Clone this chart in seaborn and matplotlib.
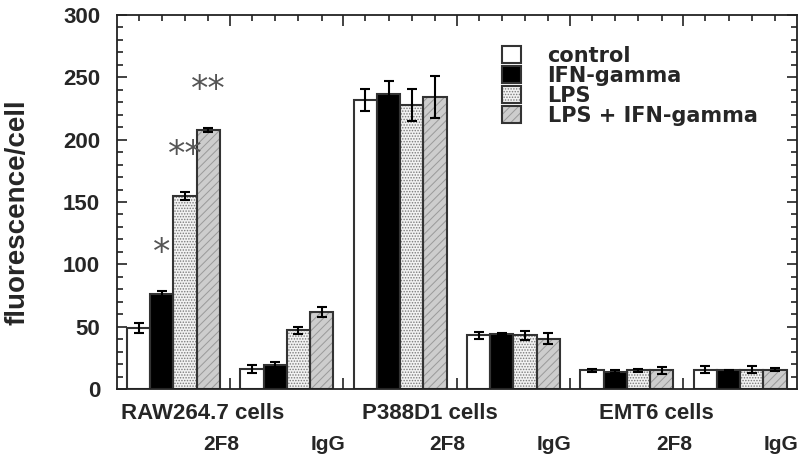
import matplotlib
matplotlib.use('Agg')
import matplotlib.pyplot as plt
import matplotlib.transforms as mtransforms
from matplotlib.patches import Patch, Rectangle
from matplotlib.legend_handler import HandlerTuple
from matplotlib.ticker import MultipleLocator
import numpy as np
import pandas as pd
import seaborn as sns

# values
groups = ['RAW264.7 2F8', 'RAW264.7 IgG', 'P388D1 2F8', 'P388D1 IgG', 'EMT6 2F8', 'EMT6 IgG']
cell_lines = ['RAW264.7 cells', 'P388D1 cells', 'EMT6 cells']
antibodies = ['2F8', 'IgG', '2F8', 'IgG', '2F8', 'IgG']
treatments = ['control', 'IFN-gamma', 'LPS', 'LPS + IFN-gamma']

control = [49, 16, 232, 43, 15, 15.5]
ifn = [76, 19, 237, 44, 14, 15]
lps = [155, 47, 228, 43, 15, 15.5]
lps_ifn = [208, 62, 234, 40.5, 15, 15.5]

control_err = [4, 3.5, 9, 3, 1, 3]
ifn_err = [3, 3, 10, 1, 1, 0.5]
lps_err = [3, 3, 13, 3.5, 1, 3]
lps_ifn_err = [1.5, 4, 17, 4.5, 3, 1]

# significance marks over the RAW264.7 / 2F8 bars
stars = ['', '*', '**', '**']

# long table for seaborn
values = [control, ifn, lps, lps_ifn]
errors = [control_err, ifn_err, lps_err, lps_ifn_err]
rows = []
for t, vals, errs in zip(treatments, values, errors):
    for g, v, e in zip(groups, vals, errs):
        rows.append({'group': g, 'treatment': t, 'value': v, 'err': e})
df = pd.DataFrame(rows)

sns.set_style('ticks')
plt.rcParams['font.family'] = ['Liberation Sans', 'DejaVu Sans']
plt.rcParams['font.weight'] = 'bold'
plt.rcParams['hatch.linewidth'] = 0.7

fills = {'control': 'white', 'IFN-gamma': 'black', 'LPS': '#f2f2f2', 'LPS + IFN-gamma': '#cdcdcd'}
hatches = {'control': '', 'IFN-gamma': '', 'LPS': '......', 'LPS + IFN-gamma': '////'}
hatch_cols = {'control': '#333333', 'IFN-gamma': 'black', 'LPS': '#7a7a7a', 'LPS + IFN-gamma': '#999999'}
edge = '#333333'

fig = plt.figure(figsize=(8, 4.62), dpi=100)
ax = fig.add_axes([0.146, 0.158, 0.85, 0.8095])

sns.barplot(data=df, x='group', y='value', hue='treatment', order=groups,
            hue_order=treatments, palette=fills, width=0.82, errorbar=None,
            saturation=1, linewidth=0, legend=False, ax=ax)

centers = []
for t, cont in zip(treatments, ax.containers):
    sub = df[df.treatment == t]
    xs, hs = [], []
    for bar in cont:
        bar.set_hatch(hatches[t])
        bar.set_edgecolor(hatch_cols[t])
        bar.set_linewidth(0)
        ax.add_patch(Rectangle(bar.get_xy(), bar.get_width(), bar.get_height(),
                               fill=False, edgecolor=edge, linewidth=1.5, zorder=2.5))
        xs.append(bar.get_x() + bar.get_width() / 2)
        hs.append(bar.get_height())
    centers += xs
    ax.errorbar(xs, hs, yerr=sub['err'].values, fmt='none', ecolor='black',
                elinewidth=1.5, capsize=3.6, capthick=1.5, zorder=3)
    # stars over the first group
    i = treatments.index(t)
    if stars[i]:
        ax.text(xs[0], hs[0] + sub['err'].values[0] + 30, stars[i], ha='center',
                va='center', fontsize=25, color='#555555', fontweight='normal',
                family='DejaVu Sans')

ax.set_xlim(-0.5, len(groups) - 0.5)
ax.set_ylim(0, 300)
ax.set_yticks(range(0, 301, 50))
ax.yaxis.set_minor_locator(MultipleLocator(10))
ax.set_xticks(np.arange(len(groups) - 1) + 0.5)
ax.set_xticks(sorted(centers), minor=True)
ax.tick_params(axis='x', which='both', direction='in', top=True, bottom=True,
               labelbottom=False, width=1.2, color='#222222')
ax.tick_params(axis='x', which='major', length=8)
ax.tick_params(axis='x', which='minor', length=4)
ax.tick_params(axis='y', which='both', direction='in', left=True, right=True,
               width=1.2, color='#222222')
ax.tick_params(axis='y', which='major', length=7, labelsize=16, pad=12)
ax.tick_params(axis='y', which='minor', length=4.5)
ax.set_xlabel('')
ax.set_ylabel('')
for s in ax.spines.values():
    s.set_linewidth(1.3)
    s.set_color('#222222')

fig.text(18 / 800, 0.54, 'fluorescence/cell', rotation=90, ha='center', va='center',
         fontsize=20, fontweight='bold')

# category labels under the axis
trans = mtransforms.blended_transform_factory(ax.transData, ax.transAxes)
for k, name in enumerate(cell_lines):
    ax.text(2 * k + 0.5 - 0.24, -0.066, name, transform=trans, ha='center',
            va='center', fontsize=16)
for k, ab in enumerate(antibodies):
    ax.text(k + 0.42 - 0.06 * (k % 2), -0.148, ab, transform=trans, ha='center',
            va='center', fontsize=15)

# legend
handles = []
for t in treatments:
    handles.append((Patch(facecolor=fills[t], hatch=hatches[t], edgecolor=hatch_cols[t], linewidth=0),
                    Patch(facecolor='none', edgecolor=edge, linewidth=1.5)))
ax.legend(handles, treatments, handler_map={tuple: HandlerTuple(ndivide=1, pad=0)},
          loc='upper left', bbox_to_anchor=(0.566, 0.918), frameon=False,
          borderaxespad=0, borderpad=0, handlelength=0.95, handleheight=0.85,
          handletextpad=1.25, labelspacing=0.0,
          prop={'size': 15, 'weight': 'bold', 'family': 'DejaVu Sans'})

fig.savefig('out.png', dpi=100)
